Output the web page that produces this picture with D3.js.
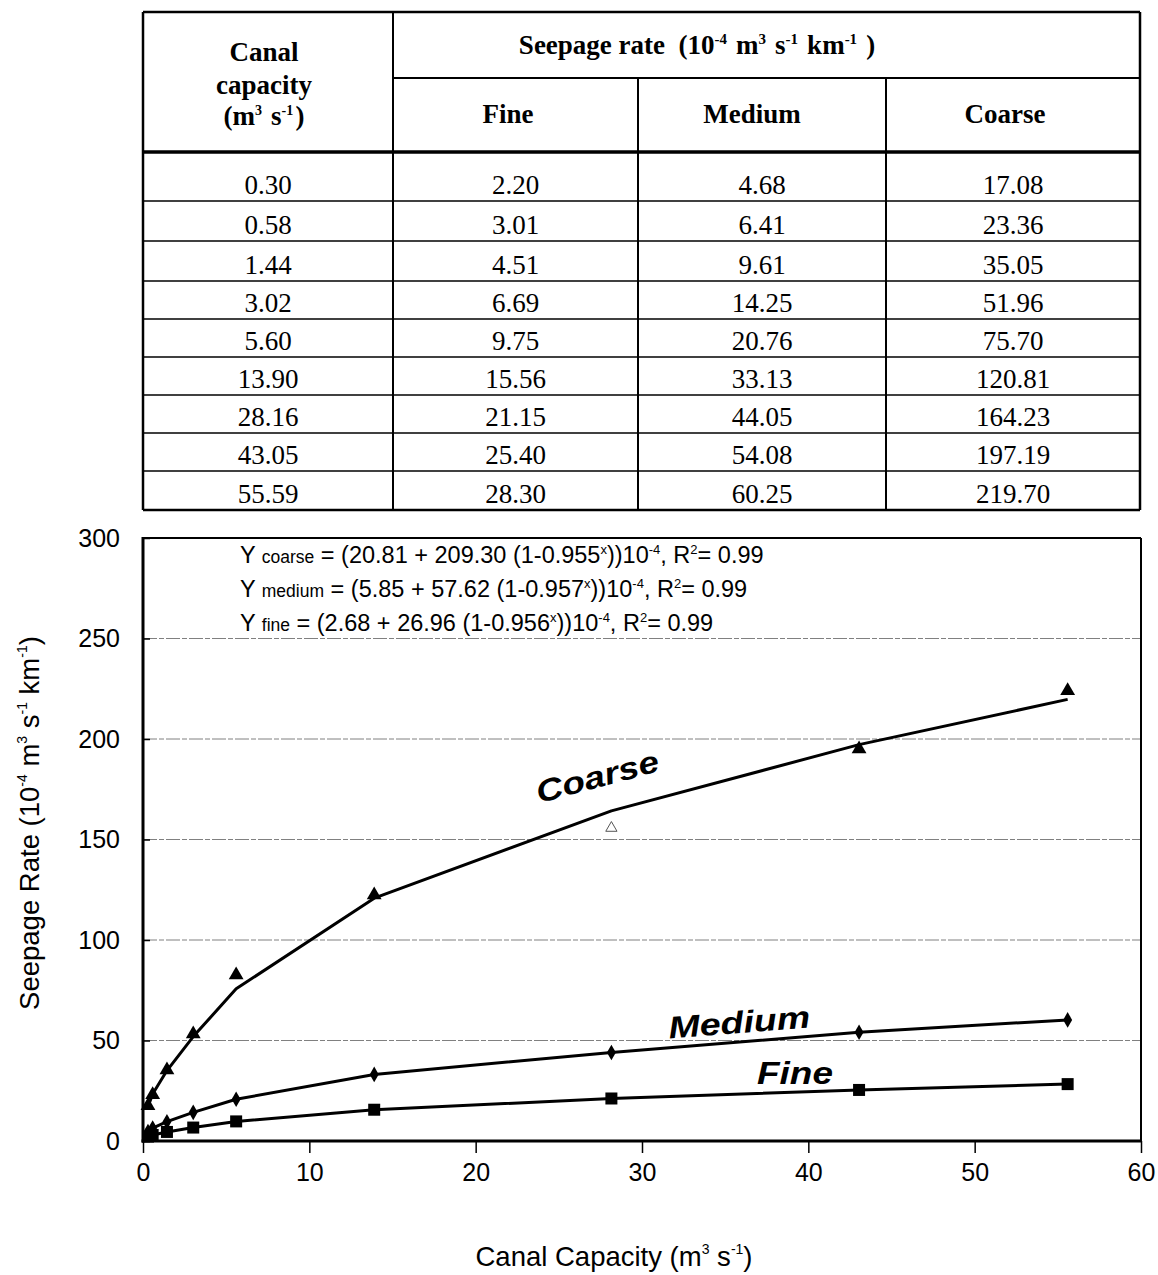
<!DOCTYPE html>
<html>
<head>
<meta charset="utf-8">
<script src="https://cdn.jsdelivr.net/npm/d3@7"></script>
<style>
body{margin:0;background:#fff;}
svg{display:block;}
</style>
</head>
<body>
<svg id="c" width="1158" height="1275"></svg>
<script>
// ---- data ----
const capacity = [0.30, 0.58, 1.44, 3.02, 5.60, 13.90, 28.16, 43.05, 55.59];
const fine     = [2.20, 3.01, 4.51, 6.69, 9.75, 15.56, 21.15, 25.40, 28.30];
const medium   = [4.68, 6.41, 9.61, 14.25, 20.76, 33.13, 44.05, 54.08, 60.25];
const coarse   = [17.08, 23.36, 35.05, 51.96, 75.70, 120.81, 164.23, 197.19, 219.70];
const coarseObserved = [17.5, 23.0, 35.3, 53.2, 82.6, 122.4, 155.7, 195.0, 224.0];
const coarseHollow = [false, false, false, false, false, false, true, false, false];
const xTicks = [0, 10, 20, 30, 40, 50, 60];
const yTicks = [0, 50, 100, 150, 200, 250, 300];
const gridValues = [50, 100, 150, 200, 250];
const textureNames = ["Fine", "Medium", "Coarse"];

const svg = d3.select("#c");
const SERIF = "'Liberation Serif','Times New Roman',serif";
const SANS = "'Liberation Sans',Arial,sans-serif";

// ---- table ----
const colX = [143, 393, 638, 886, 1140];
const tTop = 12, hMid = 78, hBot = 152;
const rowBottoms = [201, 241, 281, 319, 357, 395, 433, 471, 510];
const tg = svg.append("g");

function line(x1,y1,x2,y2,w){tg.append("line").attr("x1",x1).attr("y1",y1).attr("x2",x2).attr("y2",y2).attr("stroke","#000").attr("stroke-width",w);}
line(colX[0], tTop, colX[4], tTop, 2.5);
line(colX[0], rowBottoms[8], colX[4], rowBottoms[8], 2.5);
line(colX[0], tTop, colX[0], rowBottoms[8], 2.5);
line(colX[4], tTop, colX[4], rowBottoms[8], 2.5);
line(colX[1], tTop, colX[1], rowBottoms[8], 2);
line(colX[2], hMid, colX[2], rowBottoms[8], 2);
line(colX[3], hMid, colX[3], rowBottoms[8], 2);
line(colX[1], hMid, colX[4], hMid, 2);
line(colX[0], hBot, colX[4], hBot, 3.5);
rowBottoms.slice(0, 8).forEach(y => line(colX[0], y, colX[4], y, 1.6));

function supText(sel, parts, size, supSize){
  parts.forEach(p => {
    if (typeof p === "string") sel.append("tspan").attr("font-size", size).text(p);
    else {
      sel.append("tspan").attr("font-size", supSize).attr("dy", p.dy).text(p.t);
      sel.append("tspan").attr("font-size", size).attr("dy", -p.dy).text("\u200A");
    }
  });
}
const hdrFont = 27;
const cc = 264;
tg.append("text").attr("x", cc).attr("y", 61).attr("text-anchor","middle").attr("font-family",SERIF).attr("font-weight","bold").attr("font-size",hdrFont).text("Canal");
tg.append("text").attr("x", cc).attr("y", 94).attr("text-anchor","middle").attr("font-family",SERIF).attr("font-weight","bold").attr("font-size",hdrFont).text("capacity");
{
  const t = tg.append("text").attr("x", cc).attr("y", 125).attr("text-anchor","middle").attr("font-family",SERIF).attr("font-weight","bold");
  supText(t, ["(m", {t:"3", dy:-10}, " s", {t:"-1", dy:-10}, ")"], hdrFont, 14);
}
{
  const t = tg.append("text").attr("x", 697).attr("y", 54).attr("text-anchor","middle").attr("font-family",SERIF).attr("font-weight","bold");
  supText(t, ["Seepage rate \u00A0(10", {t:"-4", dy:-10}, " m", {t:"3", dy:-10}, " s", {t:"-1", dy:-10}, " km", {t:"-1", dy:-10}, " )"], hdrFont, 15);
}
const hdrCenters = [508, 752, 1005];
textureNames.forEach((n, i) => {
  tg.append("text").attr("x", hdrCenters[i]).attr("y", 123).attr("text-anchor","middle")
    .attr("font-family",SERIF).attr("font-weight","bold").attr("font-size",hdrFont).text(n);
});
const cols = [capacity, fine, medium, coarse];
cols.forEach((arr, ci) => {
  arr.forEach((v, ri) => {
    tg.append("text").attr("x", (colX[ci]+colX[ci+1])/2).attr("y", rowBottoms[ri]-7)
      .attr("text-anchor","middle").attr("font-family",SERIF).attr("font-size",27).text(v.toFixed(2));
  });
});

// ---- chart ----
const x = d3.scaleLinear().domain([0, 60]).range([143, 1141]);
const y = d3.scaleLinear().domain([0, 300]).range([1141, 538]);
const cg = svg.append("g");

cg.selectAll(".grid").data(gridValues).enter().append("line")
  .attr("x1", x(0)).attr("x2", x(60)).attr("y1", d => y(d)).attr("y2", d => y(d))
  .attr("stroke", "#808080").attr("stroke-width", 1).attr("stroke-dasharray", "14,2,5,2");

const yAxis = d3.axisLeft(y).tickValues(yTicks).tickSize(-7).tickPadding(23);
const gy = cg.append("g").attr("transform", `translate(${x(0)},0)`).call(yAxis);
gy.select(".domain").remove();
gy.selectAll("text").attr("font-family", SANS).attr("font-size", 25).attr("fill","#000");
gy.selectAll("line").attr("stroke-width", 1.5);

const xAxis = d3.axisBottom(x).tickValues(xTicks).tickSize(12).tickPadding(10);
const gx = cg.append("g").attr("transform", `translate(0,${y(0)})`).call(xAxis);
gx.select(".domain").remove();
gx.selectAll("text").attr("font-family", SANS).attr("font-size", 25).attr("fill","#000");
gx.selectAll("line").attr("stroke-width", 1.5);

cg.append("line").attr("x1", x(0)).attr("x2", x(60)).attr("y1", y(300)).attr("y2", y(300)).attr("stroke","#000").attr("stroke-width",2);
cg.append("line").attr("x1", x(60)).attr("x2", x(60)).attr("y1", y(300)).attr("y2", y(0)).attr("stroke","#000").attr("stroke-width",2);
cg.append("line").attr("x1", x(0)).attr("x2", x(0)).attr("y1", y(300)-1).attr("y2", y(0)+1.5).attr("stroke","#000").attr("stroke-width",3);
cg.append("line").attr("x1", x(0)-1.5).attr("x2", x(60)+1).attr("y1", y(0)).attr("y2", y(0)).attr("stroke","#000").attr("stroke-width",3);

const lineGen = vals => d3.line().x((d, i) => x(capacity[i])).y(d => y(d))(vals);
[coarse, medium, fine].forEach(vals => {
  cg.append("path").attr("d", lineGen(vals)).attr("fill","none").attr("stroke","#000").attr("stroke-width",3).attr("stroke-linejoin","round");
});

const tri = d3.symbol().type(d3.symbolTriangle).size(95);
const triHollow = d3.symbol().type(d3.symbolTriangle).size(55);
coarseObserved.forEach((v, i) => {
  const p = cg.append("path").attr("transform", `translate(${x(capacity[i])},${y(v)})`);
  if (coarseHollow[i]) p.attr("d", triHollow()).attr("fill","#fff").attr("stroke","#555").attr("stroke-width",1);
  else p.attr("d", tri()).attr("fill","#000");
});
const dia = d3.symbol().type(d3.symbolDiamond).size(70);
medium.forEach((v, i) => {
  cg.append("path").attr("d", dia()).attr("transform", `translate(${x(capacity[i])},${y(v)})`).attr("fill","#000");
});
fine.forEach((v, i) => {
  cg.append("rect").attr("x", x(capacity[i])-6).attr("y", y(v)-6).attr("width",12).attr("height",12).attr("fill","#000");
});

function seriesLabel(txt, cx, cy, ang, len){
  cg.append("text").attr("transform", `translate(${cx},${cy}) rotate(${ang})`)
    .attr("text-anchor","middle").attr("font-family",SANS).attr("font-weight","bold").attr("font-style","italic")
    .attr("font-size",31).attr("textLength", len).attr("lengthAdjust","spacingAndGlyphs").text(txt);
}
seriesLabel("Coarse", 600, 787, -15, 126);
seriesLabel("Medium", 740, 1033, -4.5, 142);
seriesLabel("Fine", 795, 1084, 0, 76);

const eqs = [
  {sub:"coarse", a:"20.81", b:"209.30", c:"0.955", yy:563},
  {sub:"medium", a:"5.85", b:"57.62", c:"0.957", yy:597},
  {sub:"fine", a:"2.68", b:"26.96", c:"0.956", yy:631}
];
eqs.forEach(e => {
  const t = cg.append("text").attr("x", 240).attr("y", e.yy).attr("font-family", SANS);
  const fs = 23.5, ss = 17.5, sup = 13;
  t.append("tspan").attr("font-size", fs).text("Y ");
  t.append("tspan").attr("font-size", ss).text(e.sub);
  t.append("tspan").attr("font-size", fs).text(` = (${e.a} + ${e.b} (1-${e.c}`);
  t.append("tspan").attr("font-size", sup).attr("dy", -9).text("x");
  t.append("tspan").attr("font-size", fs).attr("dy", 9).text("))10");
  t.append("tspan").attr("font-size", sup).attr("dy", -9).text("-4");
  t.append("tspan").attr("font-size", fs).attr("dy", 9).text(", R");
  t.append("tspan").attr("font-size", sup).attr("dy", -9).text("2");
  t.append("tspan").attr("font-size", fs).attr("dy", 9).text("= 0.99");
});

{
  const t = svg.append("text").attr("x", 614).attr("y", 1266).attr("text-anchor","middle").attr("font-family",SANS).attr("font-size",27.5);
  t.append("tspan").text("Canal Capacity (m");
  t.append("tspan").attr("font-size",14).attr("dy",-12).text("3");
  t.append("tspan").attr("dy",12).text(" s");
  t.append("tspan").attr("font-size",14).attr("dy",-12).text("-1");
  t.append("tspan").attr("dy",12).text(")");
}
{
  const t = svg.append("text").attr("transform","translate(39,823) rotate(-90)").attr("text-anchor","middle").attr("font-family",SANS).attr("font-size",27.5);
  t.append("tspan").text("Seepage Rate (10");
  t.append("tspan").attr("font-size",14).attr("dy",-12).text("-4");
  t.append("tspan").attr("dy",12).text(" m");
  t.append("tspan").attr("font-size",14).attr("dy",-12).text("3");
  t.append("tspan").attr("dy",12).text(" s");
  t.append("tspan").attr("font-size",14).attr("dy",-12).text("-1");
  t.append("tspan").attr("dy",12).text(" km");
  t.append("tspan").attr("font-size",14).attr("dy",-12).text("-1");
  t.append("tspan").attr("dy",12).text(")");
}
</script>
</body>
</html>
